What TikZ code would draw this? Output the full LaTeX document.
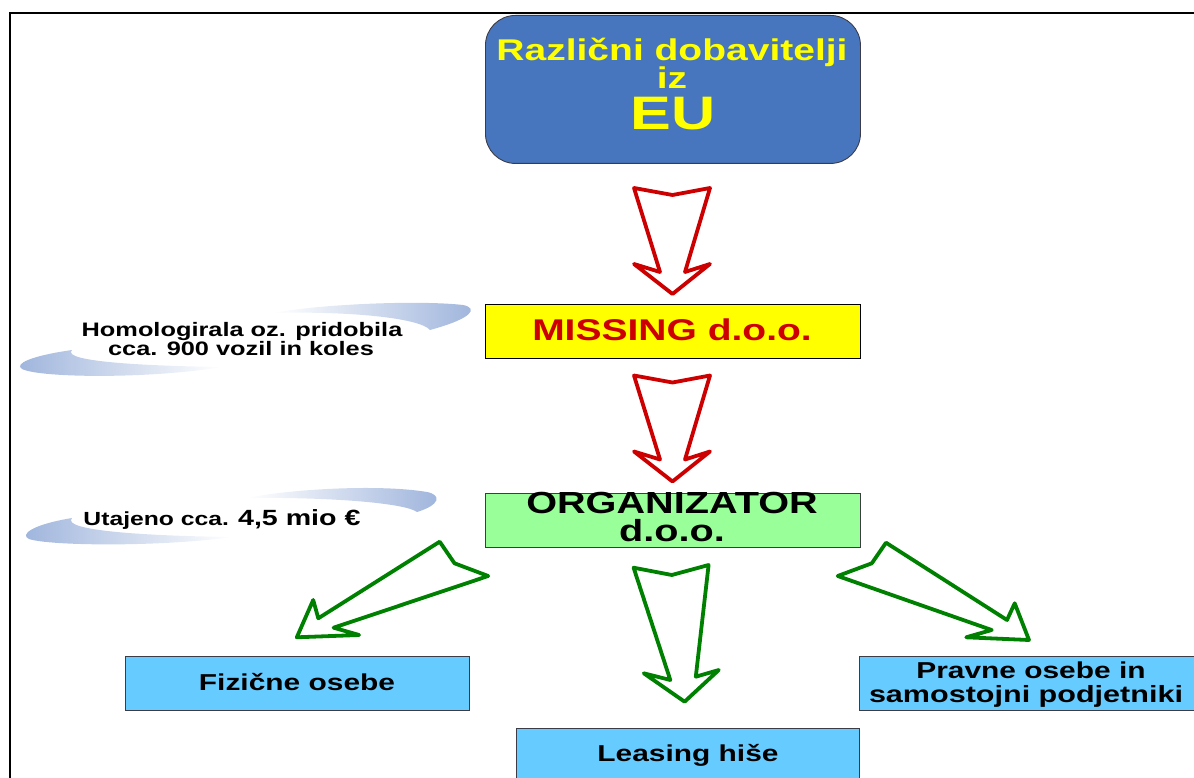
\documentclass[tikz,border=0pt]{standalone}
\usepackage{fontspec}
\newfontfamily\wf{Liberation Sans}[FakeStretch=1.3]
\definecolor{boxblue}{RGB}{71,118,190}
\definecolor{boxyellow}{RGB}{255,255,0}
\definecolor{boxgreen}{RGB}{153,255,153}
\definecolor{boxcyan}{RGB}{102,204,255}
\definecolor{arrred}{RGB}{204,0,0}
\definecolor{arrgreen}{RGB}{0,128,0}
\definecolor{txtyellow}{RGB}{255,255,0}
\definecolor{swb}{RGB}{158,180,220}
\definecolor{edgegray}{RGB}{60,60,70}
\tikzset{
  box/.style={draw=edgegray, line width=0.9pt, inner sep=0pt, anchor=north west},
  lbl/.style={anchor=base, inner sep=0pt, font=\wf\bfseries},
  redarrow/.style={draw=arrred, line width=3.8pt, line join=round},
  greenarrow/.style={draw=arrgreen, line width=3.8pt, line join=round},
}
\begin{document}
\begin{tikzpicture}[x=1pt,y=-1pt]
\useasboundingbox (0,0) rectangle (1194,778);
% frame
\draw[line width=2pt] (9.5,778) -- (9.5,13) -- (1194,13);

% swooshes
\shade[left color=white, right color=swb] (273,313) .. controls (320,304) and (420,300) .. (463,305) .. controls (478,308) and (474,318) .. (430,330) .. controls (420,318) and (350,311) .. (273,313) -- cycle;
\shade[left color=swb, right color=white] (222,367) .. controls (150,379) and (40,378) .. (22,369) .. controls (14,364) and (30,356) .. (72,350) .. controls (60,362) and (150,366) .. (222,367) -- cycle;
\shade[left color=white, right color=swb] (247,498) .. controls (290,489) and (380,484) .. (427,492) .. controls (442,495) and (440,505) .. (417,512) .. controls (405,503) and (330,497) .. (247,498) -- cycle;
\shade[left color=swb, right color=white] (233,537) .. controls (160,547) and (50,546) .. (29,539) .. controls (20,535) and (30,525) .. (72,518) .. controls (60,531) and (150,536) .. (233,537) -- cycle;

% boxes
\node[box, fill=boxblue, rounded corners=30pt, minimum width=375pt, minimum height=148pt] (eu) at (485,15) {};
\node[box, draw=black, fill=boxyellow, minimum width=375pt, minimum height=54pt] (missing) at (485,304) {};
\node[box, fill=boxgreen, minimum width=375pt, minimum height=54pt] (org) at (485,493) {};
\node[box, fill=boxcyan, minimum width=344pt, minimum height=54pt] (fiz) at (125,656) {};
\node[box, fill=boxcyan, minimum width=343pt, minimum height=60pt] (leas) at (516,728) {};
\node[box, fill=boxcyan, minimum width=345pt, minimum height=54pt] (prav) at (859,656) {};

% texts
\node[lbl, text=txtyellow, font=\wf\bfseries\fontsize{30}{30}\selectfont] (t1) at (672,61) {Različni dobavitelji};
\node[lbl, text=txtyellow, font=\wf\bfseries\fontsize{30}{30}\selectfont] (t2) at (672,89) {iz};
\node[lbl, text=txtyellow, font=\wf\bfseries\fontsize{47}{47}\selectfont] (t3) at (673,130) {EU};
\node[lbl, text=arrred, font=\wf\bfseries\fontsize{30}{30}\selectfont] (tm) at (672,340) {MISSING d.o.o.};
\node[lbl, font=\wf\bfseries\fontsize{30.5}{30.5}\selectfont] (to1) at (672,513) {ORGANIZATOR};
\node[lbl, font=\wf\bfseries\fontsize{30.5}{30.5}\selectfont] (to2) at (672,541) {d.o.o.};
\node[lbl, font=\wf\bfseries\fontsize{23}{23}\selectfont] (tf) at (297,690) {Fizične osebe};
\node[lbl, font=\wf\bfseries\fontsize{23}{23}\selectfont] (tl) at (688,761) {Leasing hiše};
\node[lbl, font=\wf\bfseries\fontsize{23}{23}\selectfont] (tp1) at (1031,678) {Pravne osebe in};
\node[lbl, font=\wf\bfseries\fontsize{23.5}{23.5}\selectfont] (tp2) at (1026,702) {samostojni podjetniki};
\node[lbl, font=\wf\bfseries\fontsize{19.5}{19.5}\selectfont] (th1) at (242,336) {Homologirala oz. pridobila};
\node[lbl, font=\wf\bfseries\fontsize{19.5}{19.5}\selectfont] (th2) at (241,355) {cca. 900 vozil in koles};
\node[lbl, font=\wf\bfseries\fontsize{19}{19}\selectfont] (tu) at (222,525) {Utajeno cca. {\fontsize{22}{22}\selectfont 4,5 mio €}};

% red arrows
\draw[redarrow] (634,188) -- (672.5,195) -- (710,188) -- (685,272) -- (710,264) -- (672.5,294) -- (634,264) -- (660,272) -- cycle;
\draw[redarrow] (634,375.5) -- (672.5,382.5) -- (710,375.5) -- (685,459.5) -- (710,451.5) -- (672.5,481.5) -- (634,451.5) -- (660,459.5) -- cycle;

% green arrows
\draw[greenarrow] (633.6,567.7) -- (671.8,575) -- (708.6,565) -- (695.8,676.7) -- (718.8,670) -- (684.6,701.7) -- (643.8,673.3) -- (670.3,680) -- cycle;
\draw[greenarrow] (439.7,541.7) -- (454.5,563.3) -- (488.2,576) -- (333.6,627.7) -- (359.1,635) -- (296.8,637.3) -- (313.2,600) -- (318.3,618.3) -- cycle;
\draw[greenarrow] (886,542.7) -- (871.8,563.3) -- (837.7,576) -- (991.7,630) -- (966.2,637.3) -- (1029,640) -- (1014.7,603.3) -- (1007,620) -- cycle;
\end{tikzpicture}
\end{document}
